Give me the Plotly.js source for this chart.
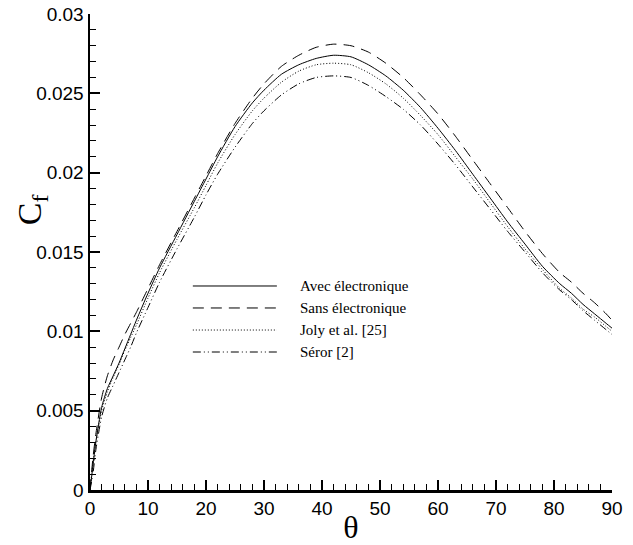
<!DOCTYPE html>
<html>
<head>
<meta charset="utf-8">
<script src="https://cdn.plot.ly/plotly-3.0.1.min.js"></script>
<style>
html,body{margin:0;padding:0;background:#fff;}
#chart{width:633px;height:545px;}
</style>
</head>
<body>
<div id="chart"></div>
<script>
// theta (degrees)
const theta = [0,0.5,1,2,3,4,5,6,7,8,10,12,15,18,20,22,25,28,30,33,36,39,42,45,48,51,54,57,60,63,66,69,72,75,78,81,83,85,87,89,90];

const avec = [0.0,0.0015,0.0030,0.0052,0.0064,0.0072,0.0080,0.0089,0.0098,0.0107,0.0124,0.0140,0.0161,0.0182,0.0196,0.0210,0.0229,0.0244,0.0252,0.0262,0.0268,0.0272,0.0274,0.0273,0.0268,0.0261,0.0252,0.0241,0.0228,0.0214,0.0199,0.0184,0.0169,0.0155,0.0141,0.0130,0.0124,0.0117,0.0111,0.0105,0.0102];

const sans = [0.0,0.0020,0.0035,0.0058,0.0072,0.0082,0.0090,0.0098,0.0105,0.0112,0.0127,0.0142,0.0163,0.0184,0.0198,0.0212,0.0231,0.0247,0.0256,0.0267,0.0274,0.0279,0.0281,0.0280,0.0276,0.0269,0.0260,0.0249,0.0237,0.0223,0.0208,0.0193,0.0178,0.0163,0.0149,0.0137,0.0131,0.0124,0.0118,0.0111,0.0107];

const joly = [0.0,0.0017,0.0030,0.0050,0.0062,0.0071,0.0079,0.0088,0.0096,0.0104,0.0121,0.0137,0.0158,0.0178,0.0192,0.0206,0.0224,0.0239,0.0247,0.0257,0.0264,0.0268,0.0269,0.0268,0.0263,0.0256,0.0247,0.0236,0.0224,0.0210,0.0196,0.0181,0.0166,0.0152,0.0139,0.0127,0.0121,0.0114,0.0109,0.0103,0.0100];

const seror = [0.0,0.0010,0.0025,0.0046,0.0058,0.0066,0.0074,0.0082,0.0090,0.0099,0.0115,0.0131,0.0152,0.0172,0.0186,0.0199,0.0216,0.0231,0.0239,0.0249,0.0256,0.0260,0.0261,0.0260,0.0255,0.0248,0.0240,0.0230,0.0218,0.0205,0.0191,0.0177,0.0163,0.0150,0.0137,0.0126,0.0120,0.0113,0.0107,0.0101,0.0098];

const seriesNames = ["Avec électronique","Sans électronique","Joly et al. [25]","Séror [2]"];
const seriesData = [avec, sans, joly, seror];
const dashes = ["solid","11px,7px","1px,2px","8px,3px,1px,3px,1px,3px"];

const traces = seriesData.map((d,i)=>({
  x: theta, y: d, type:"scatter", mode:"lines", name: seriesNames[i],
  line:{color:"#000", width:1, dash:dashes[i], shape:"spline", smoothing:0.6},
  showlegend:false, hoverinfo:"skip"
}));

// custom legend (long sample lines)
const legX0 = 0.197, legX1 = 0.358, legTextX = 0.3985;
const legY = [0.4286,0.3824,0.3361,0.2899];
const shapes = [], annotations = [];
seriesNames.forEach((n,i)=>{
  shapes.push({type:"line", xref:"paper", yref:"paper", x0:legX0, x1:legX1, y0:legY[i], y1:legY[i],
    line:{color:"#000", width:1, dash:dashes[i]}});
  annotations.push({xref:"paper", yref:"paper", x:legTextX, y:legY[i], xanchor:"left", yanchor:"middle",
    text:n, showarrow:false, font:{family:"Liberation Serif, Times New Roman, serif", size:15, color:"#000"}});
});
annotations.push({xref:"paper", yref:"paper", x:-0.111, y:0.588, xanchor:"center", yanchor:"middle",
  text:"C<sub>f</sub>", textangle:-90, showarrow:false,
  font:{family:"Liberation Serif, Times New Roman, serif", size:34, color:"#000"}});

const tickFont = {family:"Liberation Sans, Arial, Helvetica, sans-serif", size:19, color:"#000"};

const layout = {
  width:633, height:545,
  margin:{l:90, r:21, t:14, b:55},
  paper_bgcolor:"#fff", plot_bgcolor:"#fff",
  showlegend:false,
  xaxis:{
    range:[0,90], dtick:10, tick0:0, ticks:"inside", ticklen:10, tickwidth:2, tickcolor:"#000",
    showline:true, linewidth:2.5, linecolor:"#000", mirror:false, showgrid:false, zeroline:false,
    tickfont:tickFont,
    minor:{dtick:2, ticks:"inside", ticklen:6, tickwidth:1, tickcolor:"#000", showgrid:false},
    title:{text:"θ", font:{family:"Liberation Serif, Times New Roman, serif", size:32, color:"#000"}, standoff:4}
  },
  yaxis:{
    range:[0,0.03], dtick:0.005, tick0:0, ticks:"inside", ticklen:10, tickwidth:2, tickcolor:"#000",
    showline:true, linewidth:2.5, linecolor:"#000", mirror:false, showgrid:false, zeroline:false,
    tickfont:tickFont,
    minor:{dtick:0.001, ticks:"inside", ticklen:6, tickwidth:1, tickcolor:"#000", showgrid:false}
  },
  shapes:shapes,
  annotations:annotations
};

Plotly.newPlot("chart", traces, layout, {staticPlot:true, displayModeBar:false});
</script>
</body>
</html>
